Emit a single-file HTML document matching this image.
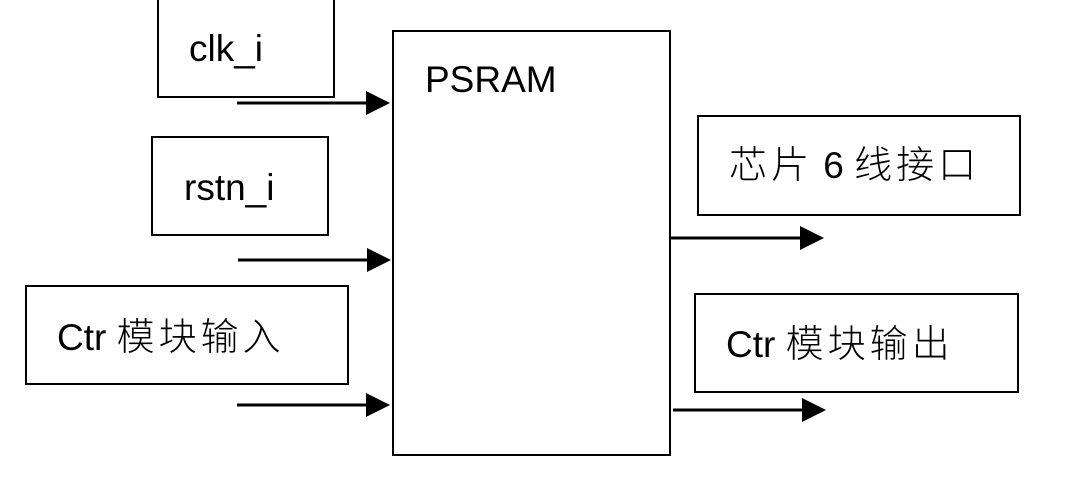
<!DOCTYPE html>
<html><head><meta charset="utf-8"><style>
html,body{margin:0;padding:0;background:#fff;}
svg text{font-family:"Liberation Sans","Noto Sans CJK SC",sans-serif;font-size:37px;fill:#000;}
svg tspan.c{font-size:38px;letter-spacing:4px;font-weight:300;}
</style></head><body>
<svg width="1073" height="474" xmlns="http://www.w3.org/2000/svg">
<g fill="none" stroke="#000" stroke-width="2">
<rect x="158" y="-5" width="176" height="102"/>
<rect x="152" y="137" width="176" height="98"/>
<rect x="26" y="286" width="322" height="98"/>
<rect x="393" y="31" width="277" height="424"/>
<rect x="698" y="116" width="322" height="99"/>
<rect x="695" y="294" width="323" height="98"/>
</g>
<g stroke="#000" stroke-width="3">
<line x1="237" y1="103" x2="368" y2="103"/>
<line x1="238" y1="260" x2="368" y2="260"/>
<line x1="237" y1="405" x2="368" y2="405"/>
<line x1="670" y1="238" x2="802" y2="238"/>
<line x1="673" y1="410" x2="802" y2="410"/>
</g>
<g fill="#000">
<polygon points="366,91 390,103 366,115"/>
<polygon points="367,248 391,260 367,272"/>
<polygon points="366,393 390,405 366,417"/>
<polygon points="800,226 824,238 800,250"/>
<polygon points="802,398 826,410 802,422"/>
</g>
<text x="189" y="61">clk_i</text>
<text x="184" y="200">rstn_i</text>
<text x="57" y="350">Ctr <tspan class="c">模块输入</tspan></text>
<text x="425" y="92">PSRAM</text>
<text x="729" y="178"><tspan class="c">芯片</tspan> 6 <tspan class="c">线接口</tspan></text>
<text x="726" y="357">Ctr <tspan class="c">模块输出</tspan></text>
</svg>
</body></html>
